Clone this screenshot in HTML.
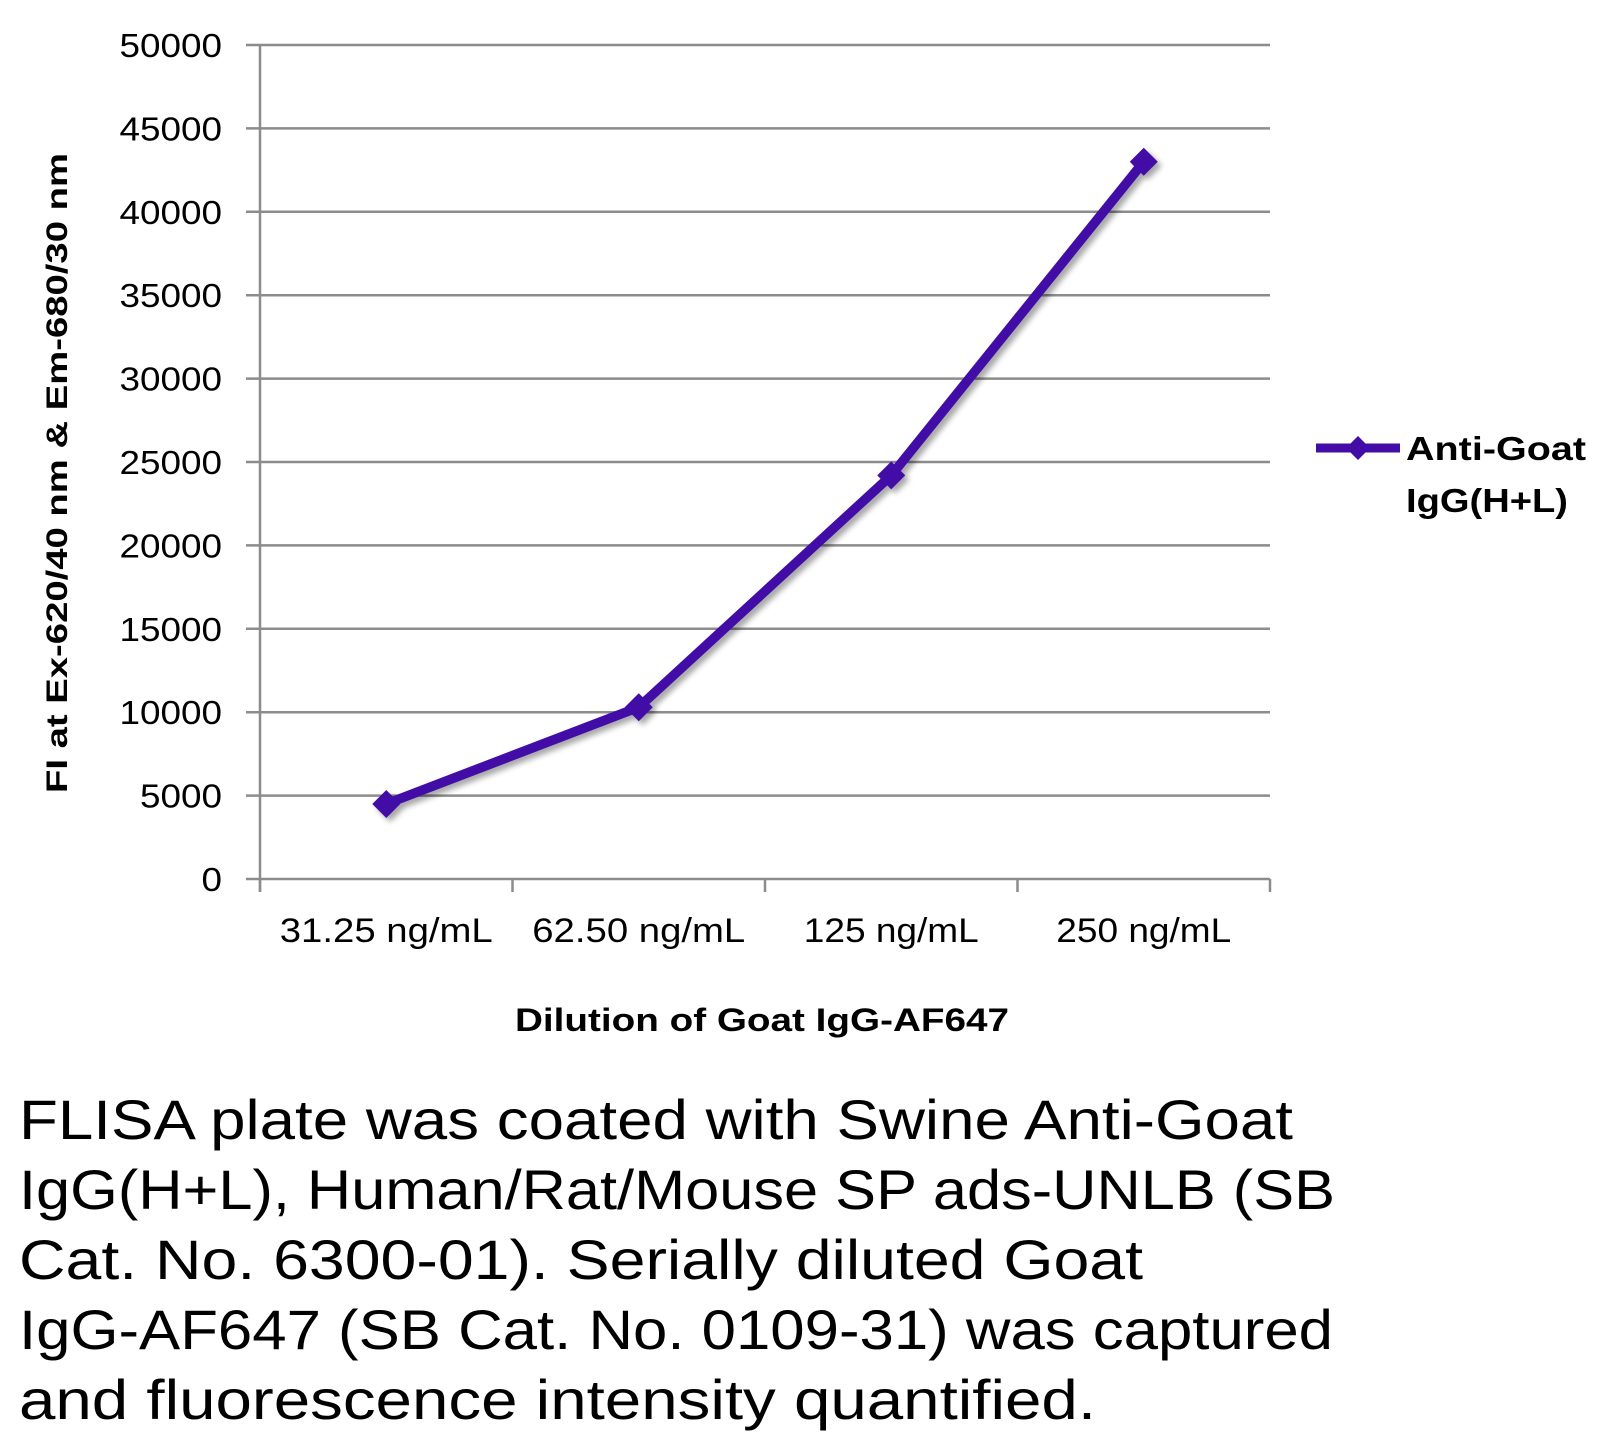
<!DOCTYPE html>
<html><head><meta charset="utf-8"><style>
html,body{margin:0;padding:0;background:#fff;}
svg{display:block;font-family:"Liberation Sans",sans-serif;}
</style></head><body>
<svg id="chart" width="1620" height="1447" viewBox="0 0 1620 1447" xmlns="http://www.w3.org/2000/svg">
<defs>
<filter id="sh" x="-10%" y="-10%" width="120%" height="120%"><feGaussianBlur in="SourceAlpha" stdDeviation="3"/><feOffset dx="4" dy="4"/><feComponentTransfer><feFuncA type="linear" slope="0.35"/></feComponentTransfer><feMerge><feMergeNode/><feMergeNode in="SourceGraphic"/></feMerge></filter>
</defs>
<g id="grid"></g>
<g id="yticks"></g>
<g id="xaxis"></g>
<g id="series" filter="url(#sh)"></g>
<text transform="translate(67,473) rotate(-90)" text-anchor="middle" font-size="30" font-weight="bold" textLength="640" lengthAdjust="spacingAndGlyphs">FI at Ex-620/40 nm &amp; Em-680/30 nm</text>
<text x="762" y="1031" text-anchor="middle" font-size="32" font-weight="bold" textLength="494" lengthAdjust="spacingAndGlyphs">Dilution of Goat IgG-AF647</text>
<g>
<line x1="1316" y1="448" x2="1400" y2="448" stroke="#430ca6" stroke-width="9"/>
<path d="M1358 436 L1370 448 L1358 460 L1346 448 Z" fill="#430ca6"/>
<text x="1406" y="460" font-size="33" font-weight="bold" textLength="180" lengthAdjust="spacingAndGlyphs">Anti-Goat</text>
<text x="1406" y="512" font-size="33" font-weight="bold" textLength="162" lengthAdjust="spacingAndGlyphs">IgG(H+L)</text>
</g>
<g font-size="56">
<text x="19" y="1139" textLength="1274" lengthAdjust="spacingAndGlyphs">FLISA plate was coated with Swine Anti-Goat</text>
<text x="19" y="1209" textLength="1316" lengthAdjust="spacingAndGlyphs">IgG(H+L), Human/Rat/Mouse SP ads-UNLB (SB</text>
<text x="19" y="1279" textLength="1124" lengthAdjust="spacingAndGlyphs">Cat. No. 6300-01).  Serially diluted Goat</text>
<text x="19" y="1349" textLength="1314" lengthAdjust="spacingAndGlyphs">IgG-AF647 (SB Cat. No. 0109-31) was captured</text>
<text x="19" y="1419" textLength="1077" lengthAdjust="spacingAndGlyphs">and fluorescence intensity quantified.</text>
</g>
</svg>
<script>
const categories = ["31.25 ng/mL","62.50 ng/mL","125 ng/mL","250 ng/mL"];
const values = [4500, 10300, 24200, 43000];
const yTicks = [0,5000,10000,15000,20000,25000,30000,35000,40000,45000,50000];
const NS="http://www.w3.org/2000/svg";
const L=260,R=1270,T=45,B=879,YMAX=50000;
const y=v=>B-(v/YMAX)*(B-T);
const bw=(R-L)/categories.length;
const x=i=>L+bw*(i+0.5);
function mk(tag,attrs,parent){const e=document.createElementNS(NS,tag);for(const k in attrs)e.setAttribute(k,attrs[k]);parent.appendChild(e);return e;}
const grid=document.getElementById('grid'),yt=document.getElementById('yticks'),xa=document.getElementById('xaxis'),se=document.getElementById('series');
yTicks.forEach(t=>{
  const l=mk('line',{x1:246,x2:R,y1:y(t),y2:y(t),stroke:'#8c8c8c','stroke-width':2.5},grid);
  
  
  const tx=mk('text',{x:222,y:y(t)+12,'text-anchor':'end','font-size':33,textLength:String(t).length*20.5,lengthAdjust:'spacingAndGlyphs'},yt);
  tx.textContent=t;
  
  
});
const ax=mk('line',{x1:L,x2:L,y1:T,y2:B+13,stroke:'#8c8c8c','stroke-width':2.5},xa);


for(let i=0;i<=categories.length;i++){
  const tk=mk('line',{x1:L+bw*i,x2:L+bw*i,y1:B,y2:B+13,stroke:'#8c8c8c','stroke-width':2.5},xa);
  
  
}
categories.forEach((c,i)=>{
  const tx=mk('text',{x:x(i),y:942,'text-anchor':'middle','font-size':34,textLength:Math.round(c.length*19.4),lengthAdjust:'spacingAndGlyphs'},xa);
  tx.textContent=c;
  
  
});
const pl=mk('polyline',{points:values.map((v,i)=>x(i)+','+y(v)).join(' '),fill:'none',stroke:'#430ca6','stroke-width':9.5,'stroke-linejoin':'round'},se);


values.forEach((v,i)=>{
  const cx=x(i),cy=y(v);
  const p=mk('path',{d:`M${cx} ${cy-14} L${cx+14} ${cy} L${cx} ${cy+14} L${cx-14} ${cy} Z`,fill:'#430ca6'},se);
  
  
});
</script>
</body></html>
